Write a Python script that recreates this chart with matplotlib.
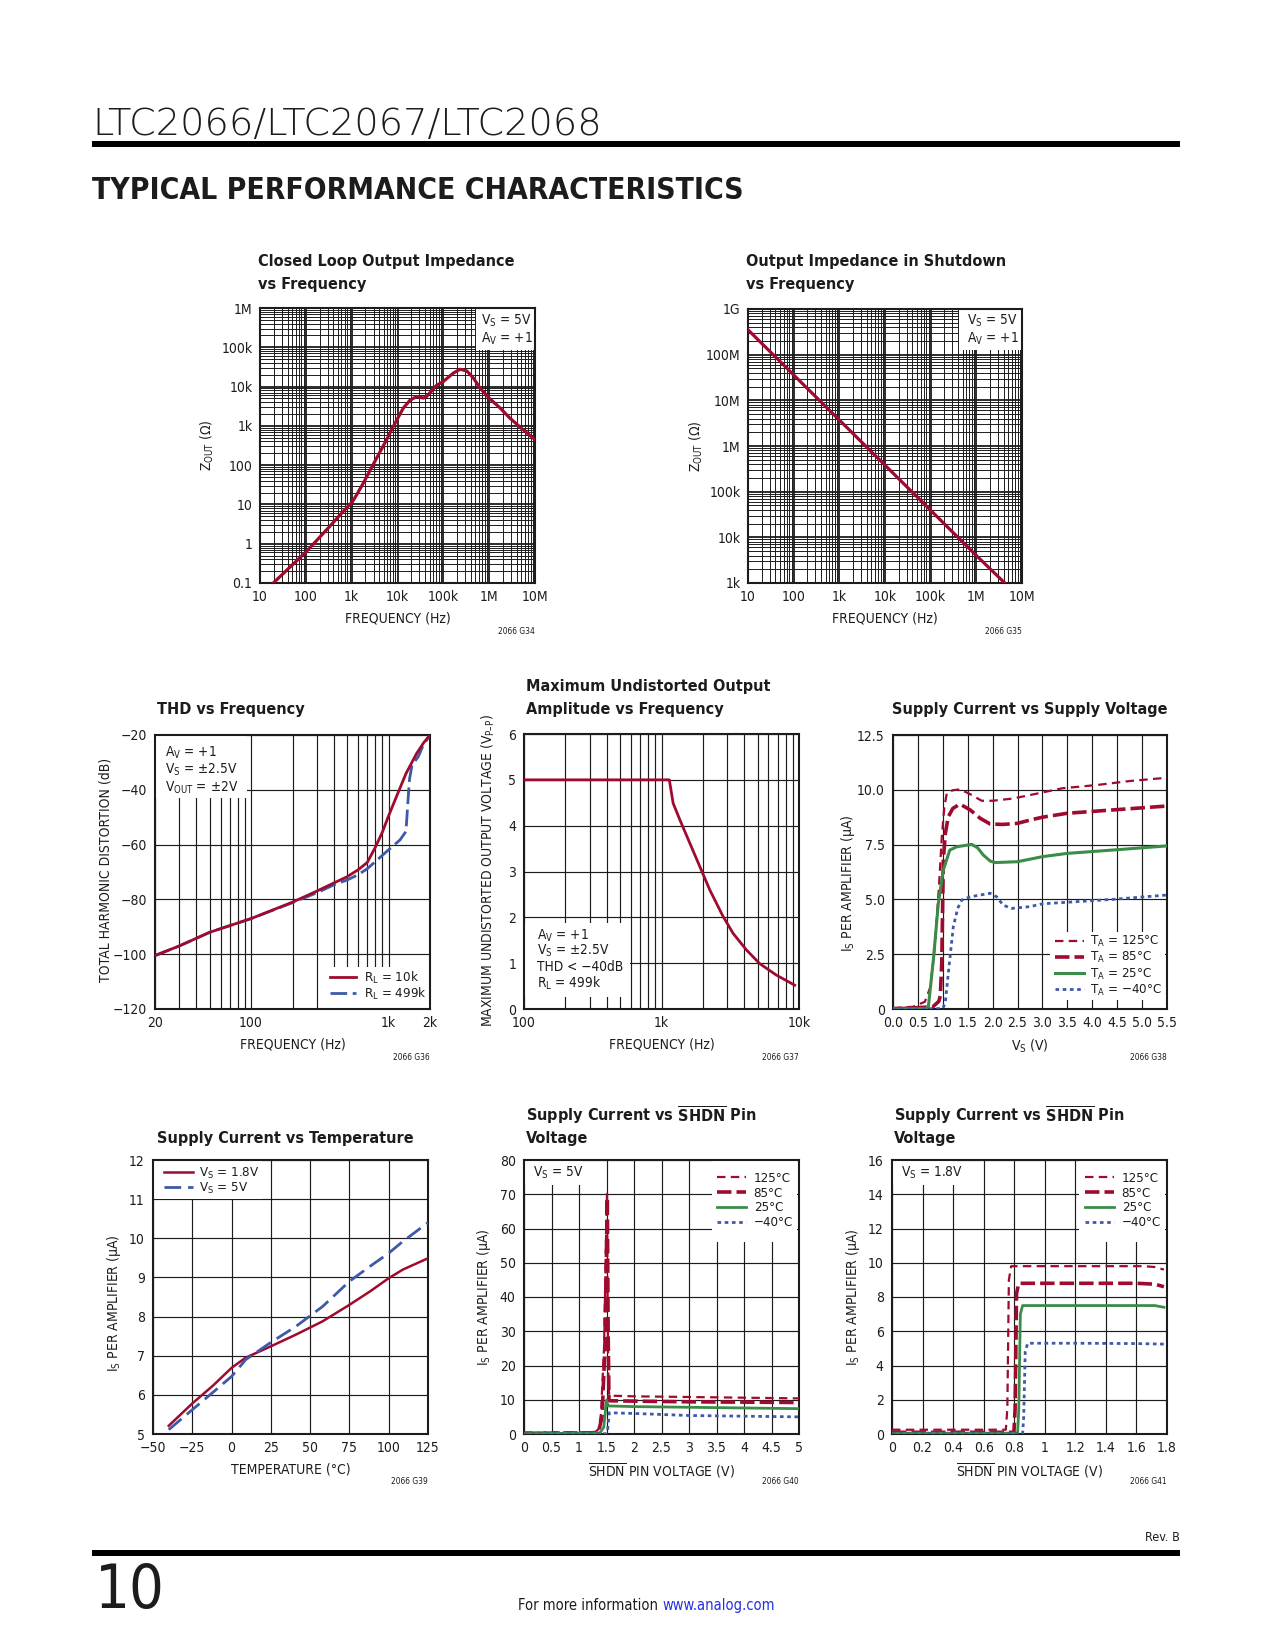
import numpy as np
import matplotlib
matplotlib.use("Agg")
import matplotlib.pyplot as plt
from matplotlib import font_manager as fm
from matplotlib.patches import Rectangle
from matplotlib.ticker import LogLocator, NullFormatter

# ---------------- data ----------------
# G34 closed loop output impedance vs frequency
g34_freq = [19.5, 104, 336, 605, 1030, 1300, 1800, 3500, 5800, 8100, 13400, 18600, 26200,
            36600, 43200, 71000, 100000, 165000, 232000, 324000, 455000, 630000, 1050000,
            1740000, 2820000, 5500000, 10000000]
g34_zout = [0.1, 0.64, 2.8, 6.0, 11.5, 18, 35, 151, 445, 970, 2840, 4450, 5600, 5100, 5600,
            10700, 13500, 22000, 27600, 25100, 16400, 9200, 4800, 2840, 1580, 795, 445]
g34_xticks = [10, 100, 1e3, 1e4, 1e5, 1e6, 1e7]
g34_xlabels = ["10", "100", "1k", "10k", "100k", "1M", "10M"]
g34_yticks = [0.1, 1, 10, 100, 1e3, 1e4, 1e5, 1e6]
g34_ylabels = ["0.1", "1", "10", "100", "1k", "10k", "100k", "1M"]

# G35 output impedance in shutdown
g35_freq = [10, 100, 1e3, 1e4, 1e5, 1e6, 4.2e6]
g35_zout = [3.5e8, 3.6e7, 3.7e6, 3.8e5, 3.9e4, 4.0e3, 1.0e3]
g35_yticks = [1e3, 1e4, 1e5, 1e6, 1e7, 1e8, 1e9]
g35_ylabels = ["1k", "10k", "100k", "1M", "10M", "100M", "1G"]

# G36 THD vs frequency
g36_freq_10k = [20, 30, 50, 100, 200, 300, 400, 500, 600, 700, 800, 900, 1000, 1140, 1340,
                1600, 1800, 2000]
g36_thd_10k = [-100.5, -97, -92, -87, -81, -77, -74, -71.7, -69.2, -66.5, -61, -55.5, -49.5,
               -42.5, -34, -26.7, -22.8, -20]
g36_freq_499k = [20, 30, 50, 100, 200, 300, 400, 500, 600, 700, 800, 1000, 1210, 1337, 1390,
                 1420, 1480, 1644, 1790, 2000]
g36_thd_499k = [-100.5, -97, -92, -87, -81.2, -77.6, -74.7, -72.9, -71, -68.8, -66.2, -61.9,
                -58.3, -55.2, -42.5, -36, -31, -27.9, -23.6, -20]
g36_xticks = [20, 100, 1000, 2000]
g36_xlabels = ["20", "100", "1k", "2k"]
g36_xminor = [30, 40, 50, 60, 70, 80, 90, 200, 300, 400, 500, 600, 700, 800, 900]
g36_yticks = [-120, -100, -80, -60, -40, -20]
g36_ylabels = ["\u2212120", "\u2212100", "\u221280", "\u221260", "\u221240", "\u221220"]

# G37 maximum undistorted output amplitude
g37_freq = [100, 1140, 1215, 1359, 1606, 1898, 2244, 2803, 3317, 4143, 5178, 6842, 9300]
g37_vpp = [5.0, 5.0, 4.49, 4.13, 3.62, 3.11, 2.6, 2.02, 1.65, 1.29, 0.99, 0.74, 0.52]
g37_xticks = [100, 1000, 10000]
g37_xlabels = ["100", "1k", "10k"]
g37_xminor = [200, 300, 400, 500, 600, 700, 800, 900, 2000, 3000, 4000, 5000, 6000, 7000,
              8000, 9000]
g37_yticks = [0, 1, 2, 3, 4, 5, 6]

# G38 supply current vs supply voltage
g38_v_125 = [0, 0.4, 0.64, 0.75, 0.84, 0.92, 0.98, 1.03, 1.08, 1.2, 1.345, 1.55, 1.78, 2.0,
             2.4, 2.75, 3.4, 4.1, 4.75, 5.5]
g38_i_125 = [0.05, 0.1, 0.33, 1.0, 2.84, 5.5, 7.86, 9.2, 9.84, 9.98, 10.02, 9.8, 9.5, 9.5,
             9.6, 9.76, 10.07, 10.22, 10.4, 10.55]
g38_v_85 = [0, 0.8, 0.92, 0.95, 0.98, 1.01, 1.05, 1.11, 1.2, 1.345, 1.55, 1.75, 1.95, 2.2,
            2.5, 2.75, 3.0, 3.5, 4.4, 5.5]
g38_i_85 = [0, 0.1, 0.35, 0.6, 2.2, 6.8, 8.0, 8.77, 9.15, 9.35, 9.08, 8.7, 8.44, 8.42, 8.47,
            8.62, 8.75, 8.93, 9.08, 9.26]
g38_v_25 = [0, 0.65, 0.71, 0.81, 0.91, 1.01, 1.14, 1.28, 1.58, 1.7, 1.81, 1.95, 2.05, 2.5,
            3.0, 3.5, 4.4, 5.5]
g38_i_25 = [0, 0.02, 0.1, 2.24, 4.82, 6.34, 7.25, 7.4, 7.51, 7.35, 7.03, 6.75, 6.68, 6.72,
            6.95, 7.1, 7.25, 7.44]
g38_v_m40 = [0, 1.0, 1.05, 1.11, 1.21, 1.3, 1.38, 1.55, 1.95, 2.08, 2.21, 2.38, 2.75, 3.0,
             3.5, 4.4, 5.5]
g38_i_m40 = [0, 0.02, 0.3, 1.63, 3.75, 4.6, 4.97, 5.12, 5.28, 5.12, 4.74, 4.59, 4.67, 4.8,
             4.87, 5.0, 5.2]
g38_xticks = [0, 0.5, 1.0, 1.5, 2.0, 2.5, 3.0, 3.5, 4.0, 4.5, 5.0, 5.5]
g38_xlabels = ["0.0", "0.5", "1.0", "1.5", "2.0", "2.5", "3.0", "3.5", "4.0", "4.5", "5.0", "5.5"]
g38_yticks = [0, 2.5, 5, 7.5, 10, 12.5]
g38_ylabels = ["0", "2.5", "5.0", "7.5", "10.0", "12.5"]

# G39 supply current vs temperature
g39_temp = [-40, -25, -12, 0, 9, 25, 41, 58, 75, 88, 100, 109, 125]
g39_is_18 = [5.21, 5.78, 6.23, 6.69, 6.95, 7.24, 7.54, 7.88, 8.3, 8.64, 8.98, 9.2, 9.49]
g39_is_5 = [5.11, 5.62, 6.06, 6.47, 6.9, 7.34, 7.75, 8.26, 8.9, 9.28, 9.62, 9.92, 10.4]
g39_xticks = [-50, -25, 0, 25, 50, 75, 100, 125]
g39_xlabels = ["\u221250", "\u221225", "0", "25", "50", "75", "100", "125"]
g39_yticks = [5, 6, 7, 8, 9, 10, 11, 12]

# G40 supply current vs SHDN pin voltage, VS = 5V
g40_v_125 = [0, 1.0, 1.30, 1.36, 1.40, 1.455, 1.50, 1.51, 1.52, 1.535, 1.55, 2.0, 3.0, 4.0, 5.0]
g40_i_125 = [0.4, 0.5, 0.6, 1.5, 6, 25, 64, 71, 40, 15, 11.2, 11.0, 10.8, 10.6, 10.4]
g40_v_85 = [0, 1.0, 1.35, 1.42, 1.47, 1.505, 1.515, 1.53, 1.545, 1.56, 2.0, 3.0, 4.0, 5.0]
g40_i_85 = [0.2, 0.3, 0.4, 5, 25, 60, 69, 30, 10, 9.7, 9.6, 9.4, 9.3, 9.2]
g40_v_25 = [0, 1.38, 1.45, 1.50, 1.53, 2.0, 3.0, 4.0, 5.0]
g40_i_25 = [0.1, 0.3, 2.0, 9.9, 8.2, 8.0, 7.8, 7.6, 7.4]
g40_v_m40 = [0, 1.5, 1.52, 1.55, 2.0, 3.0, 4.0, 5.0]
g40_i_m40 = [0.0, 0.1, 1.0, 6.2, 6.0, 5.4, 5.2, 5.0]
g40_xticks = [0, 0.5, 1, 1.5, 2, 2.5, 3, 3.5, 4, 4.5, 5]
g40_xlabels = ["0", "0.5", "1", "1.5", "2", "2.5", "3", "3.5", "4", "4.5", "5"]
g40_yticks = [0, 10, 20, 30, 40, 50, 60, 70, 80]

# G41 supply current vs SHDN pin voltage, VS = 1.8V
g41_v_125 = [0, 0.745, 0.755, 0.765, 0.78, 1.0, 1.4, 1.65, 1.72, 1.78]
g41_i_125 = [0.25, 0.25, 1.5, 9.0, 9.8, 9.8, 9.8, 9.8, 9.75, 9.6]
g41_v_85 = [0, 0.798, 0.806, 0.815, 0.83, 1.2, 1.6, 1.72, 1.78]
g41_i_85 = [0.1, 0.1, 1.5, 8.2, 8.8, 8.8, 8.8, 8.75, 8.6]
g41_v_25 = [0, 0.822, 0.83, 0.84, 0.855, 1.2, 1.6, 1.72, 1.78]
g41_i_25 = [0.05, 0.05, 1.5, 7.0, 7.5, 7.5, 7.5, 7.5, 7.4]
g41_v_m40 = [0, 0.855, 0.862, 0.872, 0.888, 1.2, 1.6, 1.78]
g41_i_m40 = [0.02, 0.02, 1.0, 4.8, 5.3, 5.3, 5.28, 5.25]
g41_xticks = [0, 0.2, 0.4, 0.6, 0.8, 1.0, 1.2, 1.4, 1.6, 1.8]
g41_xlabels = ["0", "0.2", "0.4", "0.6", "0.8", "1", "1.2", "1.4", "1.6", "1.8"]
g41_yticks = [0, 2, 4, 6, 8, 10, 12, 14, 16]

temp_labels = ["125\u00b0C", "85\u00b0C", "25\u00b0C", "\u221240\u00b0C"]

# ---------------- fonts / style ----------------
names = {f.name for f in fm.fontManager.ttflist}
if "Liberation Sans Narrow" in names:
    NARROW, NSTRETCH = "Liberation Sans Narrow", "normal"
else:
    NARROW, NSTRETCH = "DejaVu Sans", "condensed"

INK = "#1c1c1c"
RED = "#9e0b2e"
BLUE = "#3c5aa8"
GREEN = "#3b8c48"

plt.rcParams["font.family"] = [NARROW, "DejaVu Sans"]
plt.rcParams["font.stretch"] = NSTRETCH
plt.rcParams["mathtext.fontset"] = "custom"
plt.rcParams["mathtext.rm"] = NARROW
plt.rcParams["mathtext.default"] = "regular"
plt.rcParams["text.color"] = INK
plt.rcParams["axes.labelcolor"] = INK
plt.rcParams["xtick.color"] = INK
plt.rcParams["ytick.color"] = INK

W, H = 1275, 1650
fig = plt.figure(figsize=(W / 100, H / 100), dpi=100)
fig.patch.set_facecolor("white")


def axrect(rect):
    l, t, r, b = rect
    return fig.add_axes([l / W, 1 - b / H, (r - l) / W, (b - t) / H])


def ftext(x, y, s, **kw):
    return fig.text(x / W, 1 - y / H, s, **kw)


def frule(x0, y0, x1, y1):
    fig.add_artist(Rectangle((x0 / W, 1 - y1 / H), (x1 - x0) / W, (y1 - y0) / H,
                             transform=fig.transFigure, color="black", lw=0))


def mask(ax, rect, m):
    l, t, r, b = rect
    x0, y0, x1, y1 = m
    ax.add_patch(Rectangle(((x0 - l) / (r - l), (b - y1) / (b - t)),
                           (x1 - x0) / (r - l), (y1 - y0) / (b - t),
                           transform=ax.transAxes, facecolor="white", edgecolor="none",
                           zorder=1))


def style(ax, rect, xlab, ylab, ylab_x, ylab_y=0.5, xlab_y=-0.104, ypad=5.5, xpad=5):
    for s in ax.spines.values():
        s.set_linewidth(1.5)
        s.set_color(INK)
    ax.tick_params(which="both", length=0, labelsize=10)
    ax.tick_params(axis="x", which="both", pad=xpad)
    ax.tick_params(axis="y", which="both", pad=ypad)
    ax.set_axisbelow(True)
    ax.set_xlabel(xlab, fontsize=10)
    ax.set_ylabel(ylab, fontsize=10)
    ax.xaxis.set_label_coords(0.5, xlab_y)
    ax.yaxis.set_label_coords(ylab_x, ylab_y)


def title(x, ys, lines):
    for y, s in zip(ys, lines):
        ftext(x, y + 6, s, fontsize=11.6, weight="bold", va="baseline")


def note(x, y, s):
    ftext(x, y, s, fontsize=6, ha="right", va="center")


def ann(x, y, s):
    ftext(x, y + 5, s, fontsize=9.8, va="baseline")


def legend(ax, handles, x, y, hl, htp, ls, labels=None):
    kw = {}
    if labels is not None:
        kw["labels"] = labels
    ax.legend(handles=handles, loc="center left", bbox_to_anchor=(x / W, 1 - y / H),
              bbox_transform=fig.transFigure, frameon=False, handlelength=hl,
              handletextpad=htp, labelspacing=ls, borderpad=0, borderaxespad=0,
              fontsize=9.5, **kw)


# ---------------- header / footer ----------------
ftext(92, 135, "LTC2066/LTC2067/LTC2068", fontsize=27.5, family="DejaVu Sans", weight=200,
      stretch="normal", va="baseline")
frule(92, 141, 1180, 147)
ftext(92, 199, "TYPICAL PERFORMANCE CHARACTERISTICS", fontsize=21.5, family="DejaVu Sans",
      weight="heavy", stretch="condensed", va="baseline")

ftext(1180, 1541, "Rev. B", fontsize=9, ha="right", va="baseline")
frule(92, 1550, 1180, 1556)
ftext(95, 1608, "10", fontsize=44, va="baseline")
ftext(658, 1610, "For more information", fontsize=10.5, ha="right", va="baseline")
ftext(662, 1610, "www.analog.com", fontsize=10.5, ha="left", va="baseline", color="#2330e0")

# ---------------- G34 ----------------
R1 = (260, 308, 535, 583)
ax = axrect(R1)
ax.set_xscale("log")
ax.set_yscale("log")
ax.plot(g34_freq, g34_zout, color=RED, lw=2.3, zorder=3)
ax.set_xlim(10, 1e7)
ax.set_ylim(0.1, 1e6)
ax.set_xticks(g34_xticks, g34_xlabels)
ax.set_yticks(g34_yticks, g34_ylabels)
for a in (ax.xaxis, ax.yaxis):
    a.set_minor_locator(LogLocator(base=10, subs=np.arange(2, 10), numticks=100))
    a.set_minor_formatter(NullFormatter())
ax.grid(which="major", color=INK, lw=1.3)
ax.grid(which="minor", color=INK, lw=0.7)
style(ax, R1, "FREQUENCY (Hz)", "Z$_{OUT}$ (\u03a9)", -0.16)
mask(ax, R1, (476, 308, 535, 350))
ann(481, 320, "V$_S$ = 5V")
ann(481, 338, "A$_V$ = +1")
title(258, (260, 283), ["Closed Loop Output Impedance", "vs Frequency"])
note(535, 631, "2066 G34")

# ---------------- G35 ----------------
R2 = (748, 309, 1022, 583)
ax = axrect(R2)
ax.set_xscale("log")
ax.set_yscale("log")
ax.plot(g35_freq, g35_zout, color=RED, lw=2.3, zorder=3)
ax.set_xlim(10, 1e7)
ax.set_ylim(1e3, 1e9)
ax.set_xticks(g34_xticks, g34_xlabels)
ax.set_yticks(g35_yticks, g35_ylabels)
for a in (ax.xaxis, ax.yaxis):
    a.set_minor_locator(LogLocator(base=10, subs=np.arange(2, 10), numticks=100))
    a.set_minor_formatter(NullFormatter())
ax.grid(which="major", color=INK, lw=1.3)
ax.grid(which="minor", color=INK, lw=0.7)
style(ax, R2, "FREQUENCY (Hz)", "Z$_{OUT}$ (\u03a9)", -0.157)
mask(ax, R2, (959, 309, 1022, 350))
ann(967, 320, "V$_S$ = 5V")
ann(967, 338, "A$_V$ = +1")
title(746, (260, 283), ["Output Impedance in Shutdown", "vs Frequency"])
note(1022, 631, "2066 G35")

# ---------------- G36 ----------------
R3 = (155, 735, 430, 1009)
ax = axrect(R3)
ax.set_xscale("log")
l1, = ax.plot(g36_freq_10k, g36_thd_10k, color=RED, lw=2.0, zorder=3,
              label="R$_L$ = 10k")
l2, = ax.plot(g36_freq_499k, g36_thd_499k, color=BLUE, lw=2.0, dashes=(6, 2), zorder=2.9,
              label="R$_L$ = 499k")
ax.set_xlim(20, 2000)
ax.set_ylim(-120, -20)
ax.set_xticks(g36_xticks, g36_xlabels)
ax.set_xticks(g36_xminor, minor=True)
ax.xaxis.set_minor_formatter(NullFormatter())
ax.set_yticks(g36_yticks, g36_ylabels)
ax.grid(which="both", color=INK, lw=0.85)
style(ax, R3, "FREQUENCY (Hz)", "TOTAL HARMONIC DISTORTION (dB)", -0.153, 0.507)
mask(ax, R3, (155, 735, 247, 798))
mask(ax, R3, (328, 967, 430, 1009))
ann(165, 752, "A$_V$ = +1")
ann(165, 769, "V$_S$ = \u00b12.5V")
ann(165, 787, "V$_{OUT}$ = \u00b12V")
legend(ax, [l1, l2], 330, 985.5, 2.0, 0.6, 0.0)
title(157, (708,), ["THD vs Frequency"])
note(430, 1057, "2066 G36")

# ---------------- G37 ----------------
R4 = (524, 734, 799, 1009)
ax = axrect(R4)
ax.set_xscale("log")
ax.plot(g37_freq, g37_vpp, color=RED, lw=2.0, zorder=3)
ax.set_xlim(100, 10000)
ax.set_ylim(0, 6)
ax.set_xticks(g37_xticks, g37_xlabels)
ax.set_xticks(g37_xminor, minor=True)
ax.xaxis.set_minor_formatter(NullFormatter())
ax.set_yticks(g37_yticks, [str(v) for v in g37_yticks])
ax.grid(which="both", color=INK, lw=0.85)
style(ax, R4, "FREQUENCY (Hz)", "MAXIMUM UNDISTORTED OUTPUT VOLTAGE (V$_{P\u2013P}$)",
      -0.098, 0.505)
mask(ax, R4, (524, 923, 630, 997))
ann(537, 935, "A$_V$ = +1")
ann(537, 950, "V$_S$ = \u00b12.5V")
ann(537, 966, "THD < \u221240dB")
ann(537, 983, "R$_L$ = 499k")
title(526, (685, 708), ["Maximum Undistorted Output", "Amplitude vs Frequency"])
note(799, 1057, "2066 G37")

# ---------------- G38 ----------------
R5 = (893, 735, 1167, 1009)
ax = axrect(R5)
h1, = ax.plot(g38_v_125, g38_i_125, color=RED, lw=1.6, dashes=(3.8, 2.4), zorder=3,
              label="T$_A$ = 125\u00b0C")
h2, = ax.plot(g38_v_85, g38_i_85, color=RED, lw=2.6, dashes=(4, 1.4), zorder=3,
              label="T$_A$ = 85\u00b0C")
h3, = ax.plot(g38_v_25, g38_i_25, color=GREEN, lw=2.2, zorder=3, label="T$_A$ = 25\u00b0C")
h4, = ax.plot(g38_v_m40, g38_i_m40, color=BLUE, lw=2.0, dashes=(1.3, 1.3), zorder=3,
              label="T$_A$ = \u221240\u00b0C")
ax.set_xlim(0, 5.5)
ax.set_ylim(0, 12.5)
ax.set_xticks(g38_xticks, g38_xlabels)
ax.set_yticks(g38_yticks, g38_ylabels)
ax.grid(which="major", color=INK, lw=0.85)
style(ax, R5, "V$_S$ (V)", "I$_S$ PER AMPLIFIER (\u03bcA)", -0.131, 0.46, ypad=6)
mask(ax, R5, (1050, 932, 1165, 1000))
legend(ax, [h1, h2, h3, h4], 1055, 966, 2.16, 0.5, 0.08)
title(892, (708,), ["Supply Current vs Supply Voltage"])
note(1167, 1057, "2066 G38")

# ---------------- G39 ----------------
R6 = (153, 1160, 428, 1434)
ax = axrect(R6)
k1, = ax.plot(g39_temp, g39_is_18, color=RED, lw=1.8, zorder=3, label="V$_S$ = 1.8V")
k2, = ax.plot(g39_temp, g39_is_5, color=BLUE, lw=2.0, dashes=(6, 2.5), zorder=3,
              label="V$_S$ = 5V")
ax.set_xlim(-50, 125)
ax.set_ylim(5, 12)
ax.set_xticks(g39_xticks, g39_xlabels)
ax.set_yticks(g39_yticks, [str(v) for v in g39_yticks])
ax.grid(which="major", color=INK, lw=0.85)
style(ax, R6, "TEMPERATURE (\u00b0C)", "I$_S$ PER AMPLIFIER (\u03bcA)", -0.109, 0.478, ypad=6)
mask(ax, R6, (153, 1160, 262, 1199))
legend(ax, [k1, k2], 164, 1181, 2.16, 0.5, 0.0)
title(157, (1137,), ["Supply Current vs Temperature"])
note(428, 1482, "2066 G39")

# ---------------- G40 ----------------
R7 = (524, 1160, 799, 1434)
ax = axrect(R7)
a1, = ax.plot(g40_v_125, g40_i_125, color=RED, lw=1.6, dashes=(3.8, 2.4), zorder=3)
a2, = ax.plot(g40_v_85, g40_i_85, color=RED, lw=2.6, dashes=(4, 1.4), zorder=3)
a3, = ax.plot(g40_v_25, g40_i_25, color=GREEN, lw=2.0, zorder=3)
a4, = ax.plot(g40_v_m40, g40_i_m40, color=BLUE, lw=2.0, dashes=(1.3, 1.3), zorder=3)
ax.set_xlim(0, 5)
ax.set_ylim(0, 80)
ax.set_xticks(g40_xticks, g40_xlabels)
ax.set_yticks(g40_yticks, [str(v) for v in g40_yticks])
ax.grid(which="major", color=INK, lw=0.85)
style(ax, R7, "$\\overline{SHDN}$ PIN VOLTAGE (V)", "I$_S$ PER AMPLIFIER (\u03bcA)", -0.113,
      0.5, xlab_y=-0.099, ypad=6)
mask(ax, R7, (524, 1160, 582, 1185))
mask(ax, R7, (712, 1160, 797, 1242))
ann(533, 1172, "V$_S$ = 5V")
legend(ax, [a1, a2, a3, a4], 717, 1200.5, 2.23, 0.55, 0.15, labels=temp_labels)
title(526, (1115, 1137), ["Supply Current vs $\\overline{SHDN}$ Pin", "Voltage"])
note(799, 1482, "2066 G40")

# ---------------- G41 ----------------
R8 = (892, 1160, 1167, 1434)
ax = axrect(R8)
b1, = ax.plot(g41_v_125, g41_i_125, color=RED, lw=1.6, dashes=(3.8, 2.4), zorder=3)
b2, = ax.plot(g41_v_85, g41_i_85, color=RED, lw=2.6, dashes=(4, 1.4), zorder=3)
b3, = ax.plot(g41_v_25, g41_i_25, color=GREEN, lw=2.0, zorder=3)
b4, = ax.plot(g41_v_m40, g41_i_m40, color=BLUE, lw=2.0, dashes=(1.3, 1.3), zorder=3)
ax.set_xlim(0, 1.8)
ax.set_ylim(0, 16)
ax.set_xticks(g41_xticks, g41_xlabels)
ax.set_yticks(g41_yticks, [str(v) for v in g41_yticks])
ax.grid(which="major", color=INK, lw=0.85)
style(ax, R8, "$\\overline{SHDN}$ PIN VOLTAGE (V)", "I$_S$ PER AMPLIFIER (\u03bcA)", -0.109,
      0.5, xlab_y=-0.099, ypad=6)
mask(ax, R8, (892, 1160, 957, 1185))
mask(ax, R8, (1079, 1160, 1165, 1242))
ann(901, 1172, "V$_S$ = 1.8V")
legend(ax, [b1, b2, b3, b4], 1085, 1200.5, 2.23, 0.55, 0.15, labels=temp_labels)
title(894, (1115, 1137), ["Supply Current vs $\\overline{SHDN}$ Pin", "Voltage"])
note(1167, 1482, "2066 G41")

fig.savefig("out.png", dpi=100, facecolor="white")
